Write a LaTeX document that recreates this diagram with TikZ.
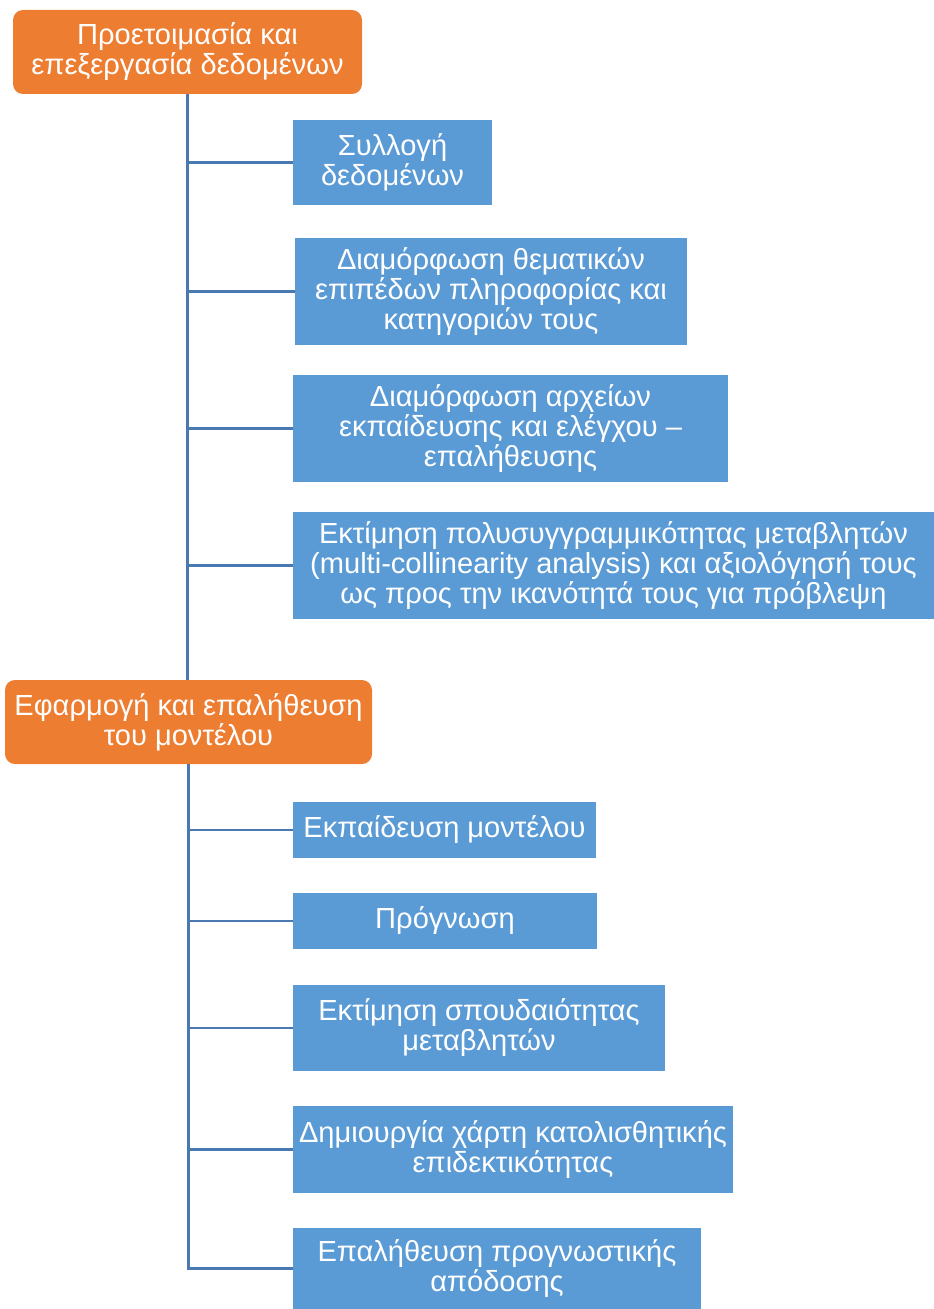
\documentclass[tikz,border=0pt]{standalone}
\usepackage{fontspec}
\setmainfont{Liberation Sans}
\definecolor{orbox}{HTML}{ED7D31}
\definecolor{blbox}{HTML}{5B9BD5}
\definecolor{lnc}{HTML}{4A78B0}
\begin{document}
\begin{tikzpicture}[x=0.75pt,y=-0.75pt,
  sz/.style 2 args={minimum width=#1*0.75pt, minimum height=#2*0.75pt},
  base/.style={inner sep=0pt, align=center, text=white,
    font=\fontsize{21.8pt}{22.5pt}\selectfont},
  head/.style={base, fill=orbox, rounded corners=7.5pt},
  item/.style={base, fill=blbox},
  conn/.style={draw=lnc, line width=2.2pt}]
\useasboundingbox (0,0) rectangle (934,1309);
\node[head, sz={349}{84}] (o1) at (187.5,52) {Προετοιμασία και\\επεξεργασία δεδομένων};
\node[item, sz={199}{85}] (b1) at (392.5,162.5) {Συλλογή\\δεδομένων};
\node[item, sz={392}{107}] (b2) at (491,291.5) {Διαμόρφωση θεματικών\\επιπέδων πληροφορίας και\\κατηγοριών τους};
\node[item, sz={435}{107}] (b3) at (510.5,428.5) {Διαμόρφωση αρχείων\\εκπαίδευσης και ελέγχου –\\επαλήθευσης};
\node[item, sz={641}{107}] (b4) at (613.5,565.5) {Εκτίμηση πολυσυγγραμμικότητας μεταβλητών\\(multi-collinearity analysis) και αξιολόγησή τους\\ως προς την ικανότητά τους για πρόβλεψη};
\node[head, sz={367}{84}] (o2) at (188.5,722) {Εφαρμογή και επαλήθευση\\του μοντέλου};
\node[item, sz={303}{56}] (b5) at (444.5,830) {Εκπαίδευση μοντέλου};
\node[item, sz={304}{56}] (b6) at (445,921) {Πρόγνωση};
\node[item, sz={372}{86}] (b7) at (479,1028) {Εκτίμηση σπουδαιότητας\\μεταβλητών};
\node[item, sz={440}{87}] (b8) at (513,1149.5) {Δημιουργία χάρτη κατολισθητικής\\επιδεκτικότητας};
\node[item, sz={408}{81}] (b9) at (497,1268.5) {Επαλήθευση προγνωστικής\\απόδοσης};
\draw[conn] (o1.south) -- (o1.south |- o2.north);
\foreach \b in {b1,b2,b3,b4} \draw[conn] (\b.west) -- (\b.west -| o1.south);
\draw[conn] (o2.south) |- (b9.west);
\foreach \b in {b5,b6,b7,b8} \draw[conn] (\b.west) -- (\b.west -| o2.south);
\end{tikzpicture}
\end{document}
